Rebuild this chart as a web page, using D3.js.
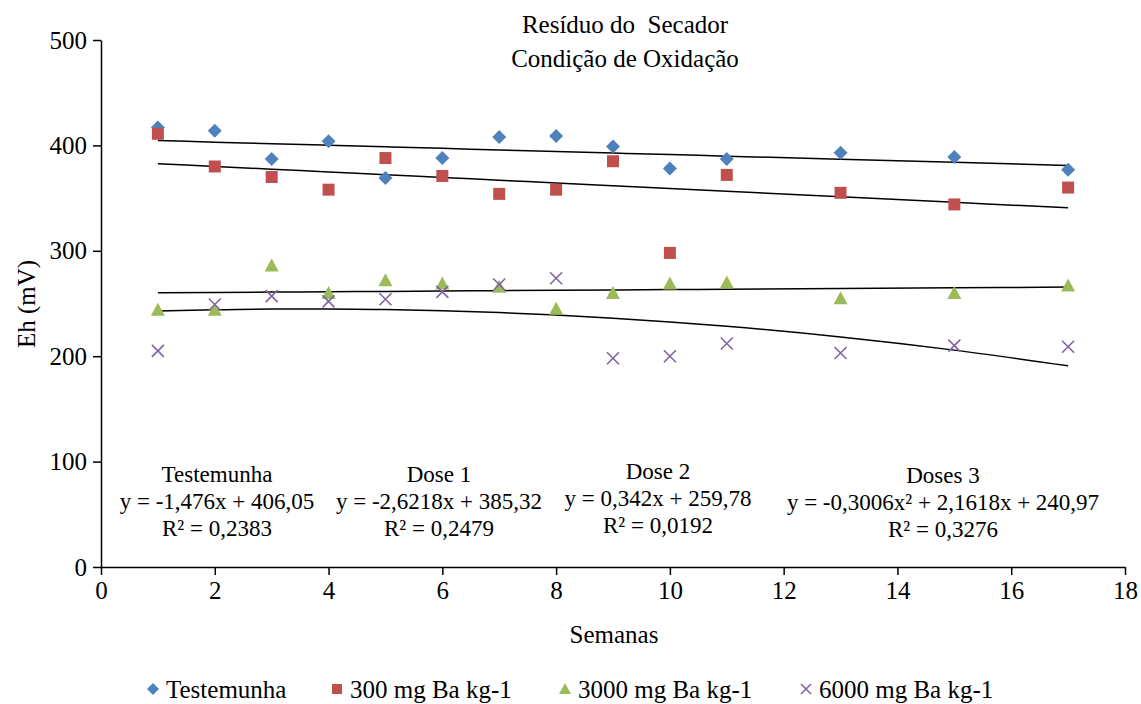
<!DOCTYPE html>
<html>
<head>
<meta charset="utf-8">
<script src="https://cdn.jsdelivr.net/npm/d3@7/dist/d3.min.js"></script>
<style>
  html, body { margin: 0; padding: 0; background: #fff; }
  svg text { font-family: "Liberation Serif", "Times New Roman", serif; fill: #000; }
  .axis path, .axis line { stroke: #000; stroke-width: 1.5; }
  .axis text { font-size: 25px; }
  .trend { fill: none; stroke: #000; stroke-width: 1.5; }
</style>
</head>
<body>
<svg id="chart" width="1141" height="704"></svg>
<script>
// Eh (mV) per week, residue from the dryer, oxidising condition
var weeks = [1, 2, 3, 4, 5, 6, 7, 8, 9, 10, 11, 13, 15, 17];
var testemunha = [417, 414, 387, 404, 369, 388, 408, 409, 399, 378, 387, 393, 389, 377];
var dose300 = [411, 380, 370, 358, 388, 371, 354, 358, 385, 298, 372, 355, 344, 360];
var dose3000 = [244, 244, 286, 260, 272, 269, 266, 245, 260, 269, 270, 255, 260, 267];
var dose6000 = [205, 249, 257, 252, 254, 261, 268, 274, 198, 200, 212, 203, 210, 209];

// fitted trend coefficients [a2, a1, a0] as printed on the chart
var fitTest = [0, -1.476, 406.05];
var fit300 = [0, -2.6218, 385.32];
var fit3000 = [0, 0.342, 259.78];
var fit6000 = [-0.3006, 2.1618, 240.97];

var xTicks = [0, 2, 4, 6, 8, 10, 12, 14, 16, 18];
var yTicks = [0, 100, 200, 300, 400, 500];
var seriesNames = ["Testemunha", "300 mg Ba kg-1", "3000 mg Ba kg-1", "6000 mg Ba kg-1"];

var series = [
  { name: seriesNames[0], vals: testemunha, fit: fitTest, shape: "diamond", color: "#4F81BD" },
  { name: seriesNames[1], vals: dose300, fit: fit300, shape: "square", color: "#C0504D" },
  { name: seriesNames[2], vals: dose3000, fit: fit3000, shape: "triangle", color: "#9BBB59" },
  { name: seriesNames[3], vals: dose6000, fit: fit6000, shape: "cross", color: "#8064A2" }
];

var labels = [
  { x: 217, lines: ["Testemunha", "y = -1,476x + 406,05", "R\u00B2 = 0,2383"], y0: 482 },
  { x: 439, lines: ["Dose 1", "y = -2,6218x + 385,32", "R\u00B2 = 0,2479"], y0: 482 },
  { x: 658, lines: ["Dose 2", "y = 0,342x + 259,78", "R\u00B2 = 0,0192"], y0: 479 },
  { x: 943, lines: ["Doses 3", "y = -0,3006x\u00B2 + 2,1618x + 240,97", "R\u00B2 = 0,3276"], y0: 483 }
];

var FONT = "Liberation Serif, Times New Roman, serif";
var svg = d3.select("#chart");
var x = d3.scaleLinear().domain([0, 18]).range([101, 1125]);
var y = d3.scaleLinear().domain([0, 500]).range([567, 40]);

function txt(px, py, s, size, anchor) {
  return svg.append("text").attr("x", px).attr("y", py).attr("text-anchor", anchor || "middle")
    .attr("font-family", FONT).attr("font-size", size).text(s);
}

// axes
var gx = svg.append("g").attr("class", "axis").attr("transform", "translate(0,567)")
  .call(d3.axisBottom(x).tickValues(xTicks).tickSize(8).tickSizeOuter(0).tickPadding(6).tickFormat(d3.format("d")));
var gy = svg.append("g").attr("class", "axis").attr("transform", "translate(101,0)")
  .call(d3.axisLeft(y).tickValues(yTicks).tickSize(8).tickSizeOuter(0).tickPadding(6).tickFormat(d3.format("d")));
gx.attr("font-family", FONT).attr("font-size", 25);
gy.attr("font-family", FONT).attr("font-size", 25);

// titles
txt(625, 33, "Resíduo do\u00A0 Secador", 25);
txt(625, 67, "Condição de Oxidação", 25);
txt(614, 643, "Semanas", 25);
svg.append("text").attr("transform", "translate(35,304) rotate(-90)").attr("text-anchor", "middle")
  .attr("font-family", FONT).attr("font-size", 25).text("Eh (mV)");

// trend lines
function fitAt(c, w) { return c[0] * w * w + c[1] * w + c[2]; }
series.forEach(function (s) {
  var line = d3.line().x(function (w) { return x(w); }).y(function (w) { return y(fitAt(s.fit, w)); })
    .curve(d3.curveMonotoneX);
  svg.append("path").attr("class", "trend").attr("d", line(weeks));
});

// markers
function marker(g, shape, color, size) {
  var h = size / 2;
  if (shape === "diamond") {
    g.append("path").attr("d", "M0," + (-h - 1) + "L" + (h + 1) + ",0L0," + (h + 1) + "L" + (-h - 1) + ",0Z").attr("fill", color);
  } else if (shape === "square") {
    g.append("rect").attr("x", -h).attr("y", -h).attr("width", size).attr("height", size).attr("fill", color);
  } else if (shape === "triangle") {
    g.append("path").attr("d", "M0," + (-h - 1) + "L" + (h + 1) + "," + h + "L" + (-h - 1) + "," + h + "Z").attr("fill", color);
  } else {
    g.append("path").attr("d", "M" + (-h) + "," + (-h) + "L" + h + "," + h + "M" + (-h) + "," + h + "L" + h + "," + (-h))
      .attr("stroke", color).attr("stroke-width", 1.6).attr("fill", "none");
  }
}
series.forEach(function (s) {
  var g = svg.append("g");
  weeks.forEach(function (w, i) {
    marker(g.append("g").attr("transform", "translate(" + x(w) + "," + y(s.vals[i]) + ")"), s.shape, s.color, 12);
  });
});

// equation labels
labels.forEach(function (l) {
  l.lines.forEach(function (t, i) { txt(l.x, l.y0 + i * 27, t, 23); });
});

// legend
var legX = [153, 337, 565, 806];
series.forEach(function (s, i) {
  marker(svg.append("g").attr("transform", "translate(" + legX[i] + ",689)"), s.shape, s.color, 10);
  txt(legX[i] + 13, 698, s.name, 25, "start");
});
</script>
</body>
</html>
